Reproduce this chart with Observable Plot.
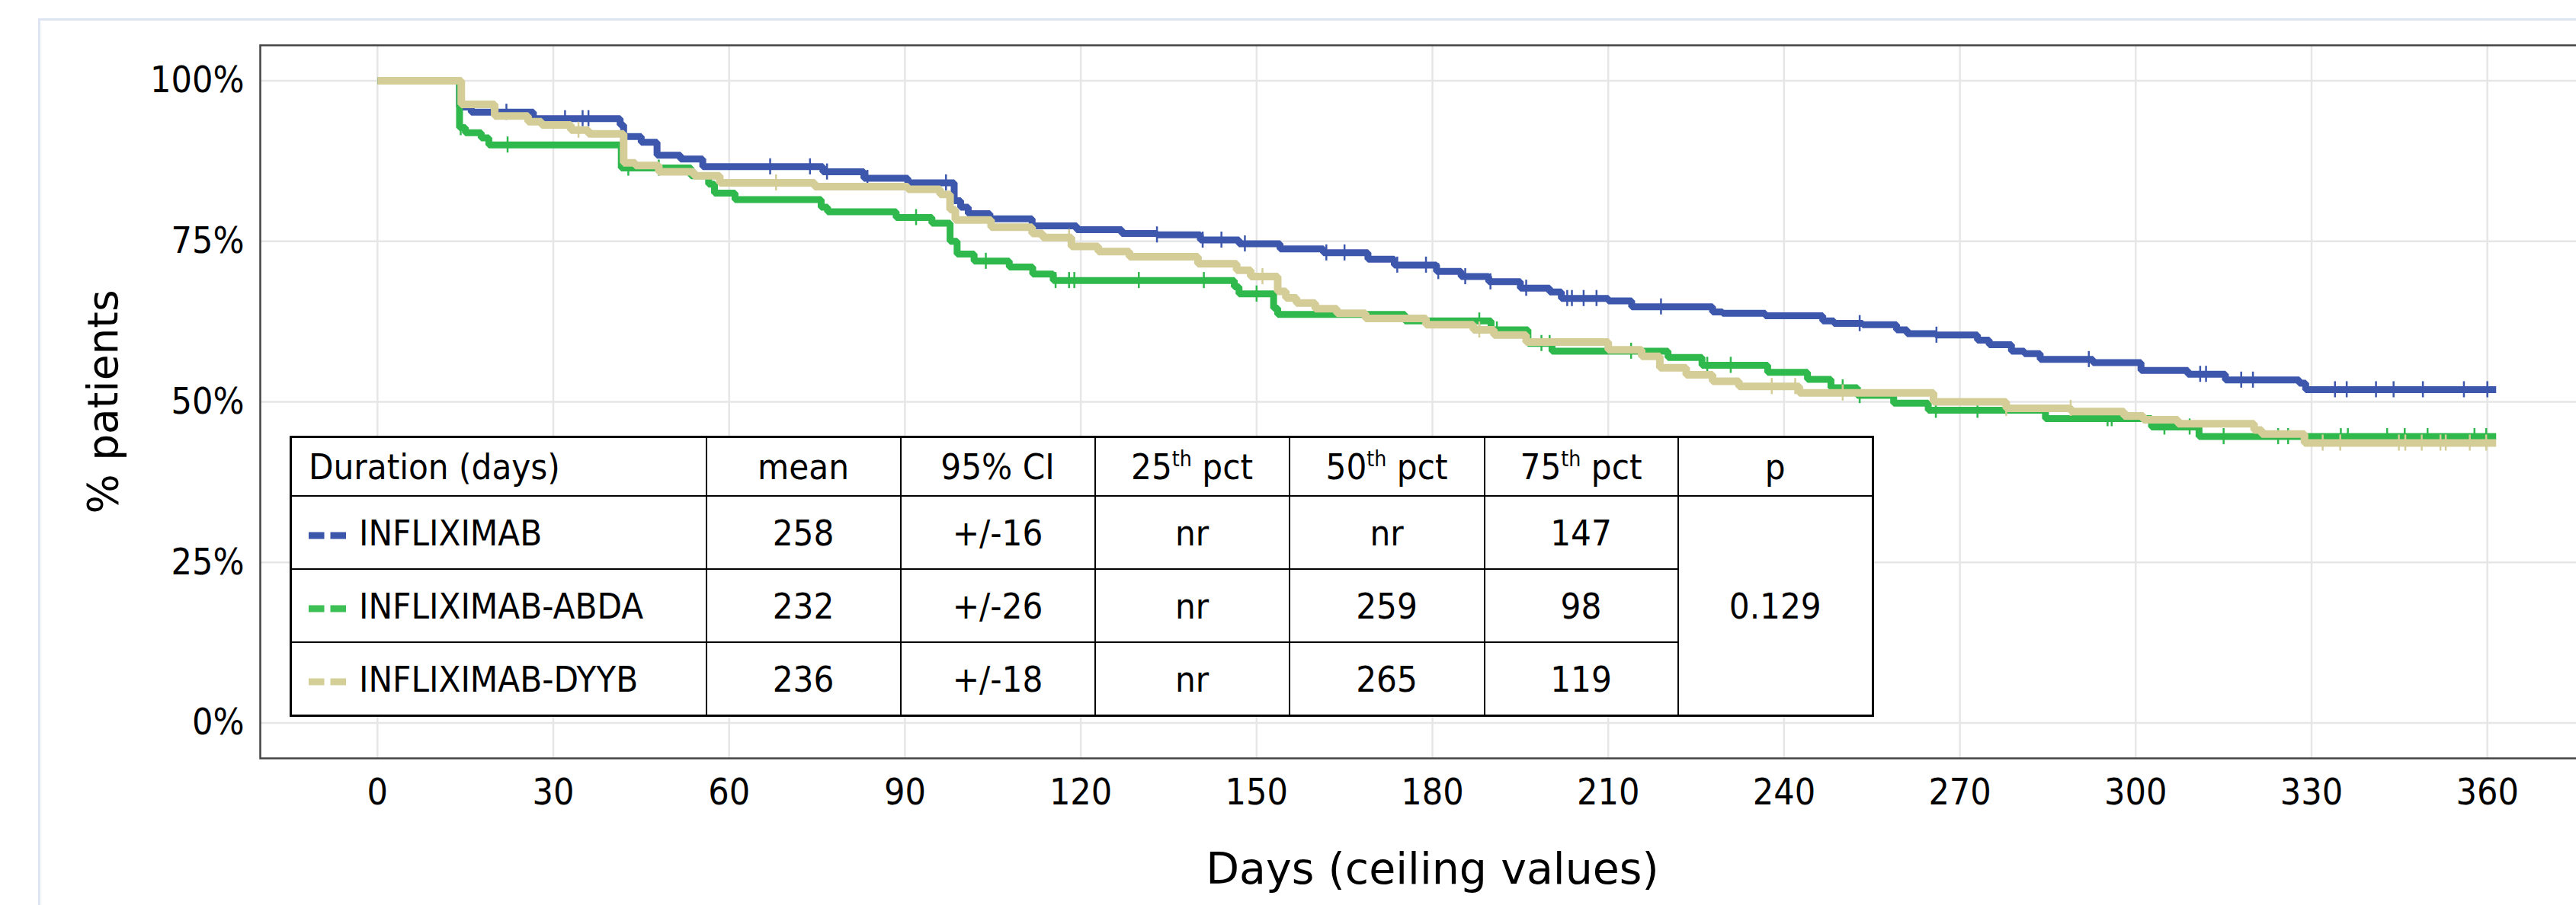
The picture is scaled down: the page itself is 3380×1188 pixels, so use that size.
<!DOCTYPE html>
<html>
<head>
<meta charset="utf-8">
<script src="https://cdn.jsdelivr.net/npm/d3@7"></script>
<script src="https://cdn.jsdelivr.net/npm/@observablehq/plot@0.6"></script>
<style>
html, body { margin: 0; padding: 0; background: #fff; overflow: hidden; width: 3380px; height: 1188px; }
#wrap { position: relative; width: 3380px; height: 1188px; overflow: hidden; background: #fff; }
#border { position: absolute; left: 50px; top: 24px; width: 4000px; height: 2000px; border: 3px solid #dde5f3; box-sizing: border-box; }
#chart { position: absolute; left: 0; top: 0; }
#chart svg { max-width: none !important; }
#tbl { position: absolute; left: 380px; top: 572px; }
#tbl table { border-collapse: collapse; table-layout: fixed; width: 2076px; background: #fff; color: #000;
  font-family: "DejaVu Sans Condensed", "DejaVu Sans", sans-serif; font-stretch: condensed; font-size: 47px; border: 3px solid #000; }
#tbl td { border: 2px solid #000; text-align: center; vertical-align: middle; padding: 0; line-height: 1; white-space: nowrap; }
#tbl tr.head td { height: 75px; }
#tbl tr.body td { height: 94px; }
#tbl td.lab { text-align: left; padding-left: 22px; }
#tbl td.lab svg { vertical-align: middle; margin-right: 17px; }
#tbl sup { font-size: 0.6em; vertical-align: 0.6em; line-height: 0; }
</style>
</head>
<body>
<div id="wrap">
  <div id="border"></div>
  <div id="chart"></div>
  <div id="tbl"></div>
</div>
<script>
// ---- series ----
const seriesNames = ["INFLIXIMAB", "INFLIXIMAB-ABDA", "INFLIXIMAB-DYYB"];
const seriesColors = ["#3d57ad", "#2fb84b", "#d4cd98"];
const swatchColors = ["#3c56ac", "#3cbf55", "#d3cf97"];

const infliximabDays = [0, 14, 16, 26.6, 41.4, 42, 45, 47.7, 51.7, 55.5, 76, 83, 90.5, 98.4, 99.5, 100.8, 104.5, 111.7, 119.3, 127, 133, 140.4, 147, 154, 161.4, 169, 173.5, 180.7, 184.9, 189.6, 195, 200, 202, 210, 214, 227.8, 229.5, 236.8, 246.6, 248.5, 253.4, 259.2, 261, 265.9, 273, 275, 278.8, 281, 283.7, 292.7, 300.9, 308.9, 315.3, 327.9, 329, 361.5];
const infliximabSurv = [100, 95.9, 95.1, 94.1, 93.1, 91.3, 90.4, 88.4, 87.8, 86.6, 85.8, 84.8, 84.1, 81.3, 80.3, 79.3, 78.5, 77.4, 76.8, 76.2, 76.0, 75.2, 74.6, 73.8, 73.2, 72.2, 71.3, 70.3, 69.5, 68.7, 67.7, 67.1, 66.1, 65.7, 64.8, 64.0, 63.8, 63.4, 62.6, 62.2, 62.0, 61.2, 60.6, 60.4, 59.6, 58.9, 57.9, 57.5, 56.6, 56.1, 54.9, 54.3, 53.4, 52.9, 51.9, 51.9];
const infliximabCensor = [22, 32, 35, 36, 67, 73.8, 76.7, 83.6, 97, 133, 140.8, 144, 148, 161.9, 165, 174, 178.9, 181, 185.6, 189.9, 196, 203, 203.8, 205.8, 208, 219, 252.9, 266, 292, 311, 312, 318, 320, 334, 336, 341, 344, 349, 356, 360];

const abdaDays = [0, 14, 15, 17.7, 19, 41.6, 53.5, 56.5, 57.5, 61, 75.7, 76.8, 88.5, 94.6, 97.7, 98.9, 101.8, 107.8, 111.8, 115.3, 146.2, 147, 152.9, 153.6, 175.3, 190, 196.3, 200.4, 220.2, 226, 237.2, 244, 248, 252.5, 258.7, 264.6, 284.6, 302.7, 310.8, 361.5];
const abdaSurv = [100, 92.7, 91.9, 91.1, 90.0, 86.4, 85.2, 83.9, 82.5, 81.5, 80.3, 79.6, 78.7, 77.8, 75.0, 73.0, 71.9, 71.0, 69.9, 68.9, 67.9, 66.8, 64.6, 63.6, 62.6, 61.2, 59.1, 57.9, 56.9, 55.7, 54.6, 53.5, 52.2, 51.0, 49.8, 48.7, 47.4, 46.1, 44.6, 44.6];
const abdaCensor = [14.2, 22.2, 42.8, 48, 91.9, 103.8, 115.7, 118, 118.9, 129.9, 141, 150, 188, 191, 198.6, 200, 213.9, 226.9, 230.9, 250, 252.9, 265.9, 273, 295.2, 295.9, 304.9, 309.2, 315, 324.3, 326, 335, 336.2, 342.9, 345.9, 349.8, 357.8, 359.8];

const dyybDays = [0, 14.3, 20, 25.7, 28, 33, 36, 42, 44, 48, 54, 58.4, 74.6, 90.5, 96, 97.7, 98.6, 104.7, 111.7, 113.5, 118.4, 123, 128.3, 140, 146.6, 149, 153.6, 155, 156.8, 160, 163.7, 168.6, 178.9, 187, 190.5, 196, 210, 215.7, 218.8, 223.3, 227.8, 232.3, 242.6, 265.5, 277.9, 289, 298, 301.3, 307.2, 320.2, 321.5, 328.8, 361.5];
const dyybSurv = [100, 96.3, 94.5, 93.6, 93.1, 92.3, 91.7, 87.2, 86.8, 85.8, 85.2, 84.1, 83.5, 83.1, 82.3, 79.9, 78.3, 77.2, 76.2, 75.6, 74.2, 73.4, 72.6, 71.5, 70.5, 69.5, 67.2, 66.2, 65.4, 64.5, 63.8, 63.0, 62.0, 61.2, 60.4, 59.3, 58.1, 57.1, 55.3, 54.2, 53.2, 52.4, 51.4, 50.0, 49.0, 48.5, 47.8, 47.2, 46.6, 45.6, 45.0, 43.6, 43.6];
const dyybCensor = [34.3, 68, 118, 151, 188, 237.9, 241.9, 250, 277.9, 288.9, 331.9, 334.9, 344.9, 346, 348.8, 352, 352.9, 357, 359.8];

// ---- axes ----
const xTicks = [0, 30, 60, 90, 120, 150, 180, 210, 240, 270, 300, 330, 360];
const yTicks = [0, 25, 50, 75, 100];
const xLabel = "Days (ceiling values)";
const yLabel = "% patients";

// ---- summary table ----
const tableHeader = ["Duration (days)", "mean", "95% CI", "25|th| pct", "50|th| pct", "75|th| pct", "p"];
const meanValues = ["258", "232", "236"];
const ciValues = ["+/-16", "+/-26", "+/-18"];
const pct25Values = ["nr", "nr", "nr"];
const pct50Values = ["nr", "259", "265"];
const pct75Values = ["147", "98", "119"];
const pValue = "0.129";

// ---- build ----
const tickFont = "'DejaVu Sans Condensed', 'DejaVu Sans', sans-serif";
const labelFont = "'DejaVu Sans', sans-serif";

function rowsOf(name, days, surv) {
  return days.map((d, i) => ({series: name, day: d, surv: surv[i]}));
}
function censorOf(name, days, surv, cens) {
  return cens.map(c => {
    let v = surv[0];
    for (let i = 0; i < days.length; i++) if (days[i] <= c) v = surv[i];
    return {series: name, day: c, surv: v};
  });
}
const seriesData = [
  {rows: rowsOf(seriesNames[0], infliximabDays, infliximabSurv), cens: censorOf(seriesNames[0], infliximabDays, infliximabSurv, infliximabCensor), color: seriesColors[0], width: 9},
  {rows: rowsOf(seriesNames[1], abdaDays, abdaSurv), cens: censorOf(seriesNames[1], abdaDays, abdaSurv, abdaCensor), color: seriesColors[1], width: 9},
  {rows: rowsOf(seriesNames[2], dyybDays, dyybSurv), cens: censorOf(seriesNames[2], dyybDays, dyybSurv, dyybCensor), color: seriesColors[2], width: 10}
];

const marks = [
  Plot.gridX(xTicks, {stroke: "#e6e6e6", strokeOpacity: 1, strokeWidth: 2.5}),
  Plot.gridY(yTicks, {stroke: "#e6e6e6", strokeOpacity: 1, strokeWidth: 2.5}),
  Plot.axisX(xTicks, {tickSize: 0, tickPadding: 26, fontSize: 48, fontFamily: tickFont, label: null, tickFormat: d => String(d)}),
  Plot.axisY(yTicks, {tickSize: 0, tickPadding: 21, fontSize: 48, fontFamily: tickFont, label: null, tickFormat: d => d + "%"}),
  Plot.text([xLabel], {frameAnchor: "bottom", textAnchor: "middle", lineAnchor: "middle", dy: 146, fontSize: 57, fontFamily: labelFont, fill: "#000"}),
  Plot.text([yLabel], {frameAnchor: "left", textAnchor: "middle", lineAnchor: "middle", dx: -205, rotate: -90, fontSize: 55, fontFamily: labelFont, fill: "#000"})
];
for (const s of seriesData) {
  marks.push(Plot.line(s.rows, {x: "day", y: "surv", curve: "step-after", stroke: s.color, strokeWidth: s.width, strokeLinejoin: "miter", strokeLinecap: "butt"}));
  marks.push(Plot.ruleX(s.cens, {x: "day", y1: d => d.surv - 1.25, y2: d => d.surv + 1.25, stroke: s.color, strokeWidth: 2.5}));
}
marks.push(Plot.frame({stroke: "#444", strokeWidth: 2.5}));

const chart = Plot.plot({
  width: 3417,
  height: 1188,
  marginLeft: 341,
  marginRight: 0,
  marginTop: 59,
  marginBottom: 193,
  x: {domain: [-20, 380]},
  y: {domain: [-5.5, 105.5]},
  style: {background: "transparent", color: "#000", fontFamily: tickFont},
  marks
});
chart.style.maxWidth = "none";
document.getElementById("chart").appendChild(chart);

// ---- table ----
function headHTML(t) {
  const parts = t.split("|");
  return parts.length === 3 ? `${parts[0]}<sup>${parts[1]}</sup>${parts[2]}` : t;
}
function swatch(color) {
  return `<svg width="49" height="10"><line x1="0" x2="49" y1="5" y2="5" stroke="${color}" stroke-width="9" stroke-dasharray="20.5 8"/></svg>`;
}
let html = `<table><colgroup>${[545, 255, 255, 255, 256, 254, 256].map(w => `<col style="width:${w}px">`).join("")}</colgroup>`;
html += `<tr class="head">${tableHeader.map((h, i) => `<td${i === 0 ? ' class="lab"' : ''}>${headHTML(h)}</td>`).join("")}</tr>`;
for (let i = 0; i < 3; i++) {
  html += `<tr class="body"><td class="lab">${swatch(swatchColors[i])}<span>${seriesNames[i]}</span></td>` +
    `<td>${meanValues[i]}</td><td>${ciValues[i]}</td><td>${pct25Values[i]}</td><td>${pct50Values[i]}</td><td>${pct75Values[i]}</td>` +
    (i === 0 ? `<td rowspan="3">${pValue}</td>` : "") + `</tr>`;
}
html += `</table>`;
document.getElementById("tbl").innerHTML = html;
</script>
</body>
</html>
